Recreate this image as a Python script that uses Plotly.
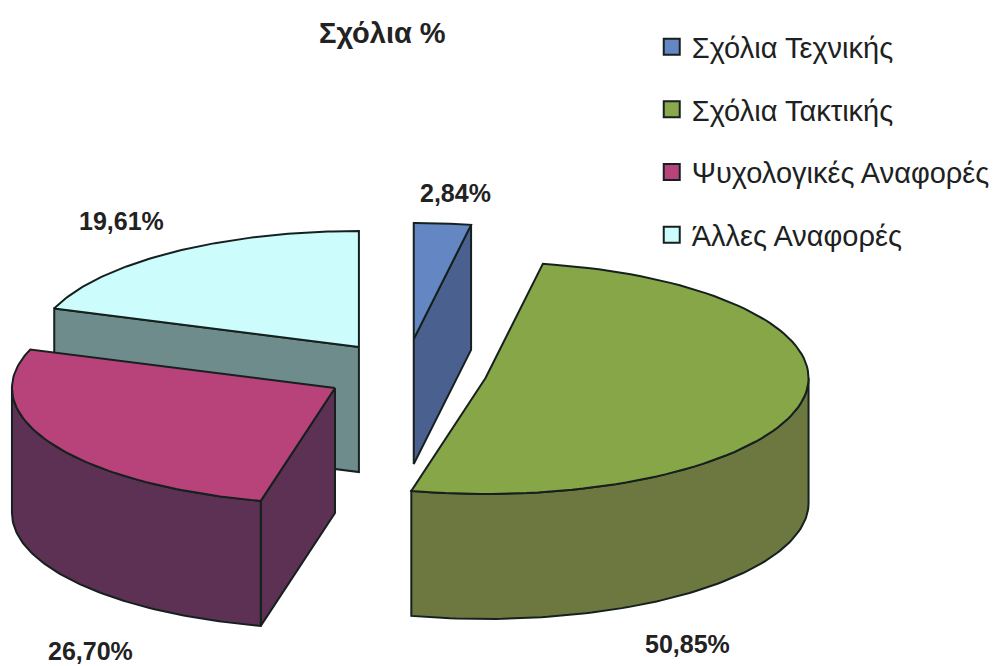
import numpy as np
import plotly.graph_objects as go

categories = ["Σχόλια Τεχνικής", "Σχόλια Τακτικής", "Ψυχολογικές Αναφορές", "Άλλες Αναφορές"]
values = [2.84, 50.85, 26.70, 19.61]
value_labels = ["2,84%", "50,85%", "26,70%", "19,61%"]
title_text = "Σχόλια %"

top_colors = ["#6487c4", "#86a648", "#b8437a", "#ccfcfc"]
side_colors = ["#4a6190", "#6c7840", "#5d3153", "#6e8c8c"]
swatch_colors = ["#6487c4", "#8aa84e", "#b8437a", "#ccfcfc"]

# Projection of the tilted, exploded pie onto the picture's coordinates
RX, RY, DEPTH = 324, 116, 125
centers = [(415, 339), (487, 378), (336, 388), (360, 347)]
label_pos = [(457, 193), (690, 644), (91, 651), (122, 221)]
FONT = "Liberation Sans, Arial, sans-serif"
OUTLINE = "#16201f"


def rim(c, a0, a1):
    t = np.radians(np.linspace(a0, a1, 90))
    return c[0] + RX * np.sin(t), c[1] - RY * np.cos(t)


def poly(fig, x, y, color):
    fig.add_trace(go.Scatter(
        x=np.append(x, x[0]), y=np.append(y, y[0]), mode="lines", fill="toself",
        fillcolor=color, line=dict(color=OUTLINE, width=2),
        hoverinfo="skip", showlegend=False))


def radial_face(fig, c, a, color):
    ex = c[0] + RX * np.sin(np.radians(a))
    ey = c[1] - RY * np.cos(np.radians(a))
    poly(fig, np.array([c[0], ex, ex, c[0]], float),
         np.array([c[1], ey, ey + DEPTH, c[1] + DEPTH], float), color)


edges = np.concatenate([[0], np.cumsum(values) / np.sum(values) * 360])
spans = [(edges[i], edges[i + 1]) for i in range(len(values))]

fig = go.Figure()
for i in [3, 2, 0, 1]:  # back to front
    c, (a0, a1) = centers[i], spans[i]
    # flat cut faces that turn towards the viewer
    if i == 0:
        radial_face(fig, c, a1, side_colors[i])
    if i in (2, 3):
        radial_face(fig, c, a0, side_colors[i])
    # curved wall: only the part of the rim on the near side
    w0, w1 = max(a0, 90), min(a1, 270)
    if w1 > w0:
        rx_, ry_ = rim(c, w0, w1)
        poly(fig, np.concatenate([rx_, rx_[::-1]]),
             np.concatenate([ry_, ry_[::-1] + DEPTH]), side_colors[i])
    # top face
    rx_, ry_ = rim(c, a0, a1)
    poly(fig, np.concatenate([[c[0]], rx_]), np.concatenate([[c[1]], ry_]), top_colors[i])

# legend entries
for i, name in enumerate(categories):
    fig.add_trace(go.Scatter(
        x=[None], y=[None], mode="markers", name=name, legendgroup=name,
        marker=dict(symbol="square", size=18, color=swatch_colors[i],
                    line=dict(color=OUTLINE, width=2))))

for txt, (lx, ly) in zip(value_labels, label_pos):
    fig.add_annotation(x=lx, y=ly, text=f"<b>{txt}</b>", showarrow=False,
                       font=dict(family=FONT, size=25, color="#222222"))
fig.add_annotation(x=384, y=33, text=f"<b>{title_text}</b>", showarrow=False,
                   font=dict(family=FONT, size=29, color="#222222"))

fig.update_layout(
    width=995, height=666, margin=dict(l=0, r=0, t=0, b=0),
    paper_bgcolor="white", plot_bgcolor="white",
    xaxis=dict(range=[0, 995], visible=False, domain=[0, 1], fixedrange=True),
    yaxis=dict(range=[666, 0], visible=False, domain=[0, 1], fixedrange=True),
    legend=dict(x=0.657, y=0.968, xanchor="left", yanchor="top", tracegroupgap=22,
                bgcolor="rgba(0,0,0,0)", itemsizing="trace",
                font=dict(family=FONT, size=29, color="#1c2222")),
)
fig.write_html("out.html", config={"displayModeBar": False},
               post_script="document.body.style.margin='0';document.documentElement.style.overflow='hidden';")
